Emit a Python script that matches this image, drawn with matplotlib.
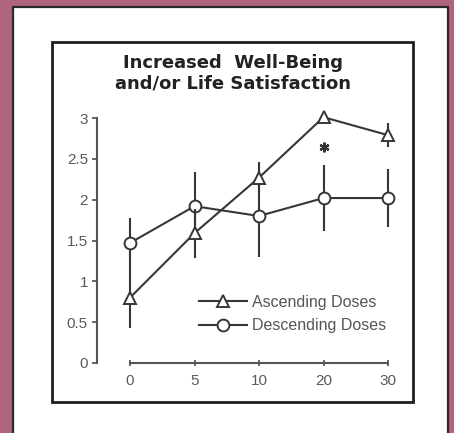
import matplotlib
matplotlib.use("Agg")
import matplotlib.pyplot as plt
from matplotlib.patches import Rectangle
from matplotlib.lines import Line2D

# ---- data ----
doses = ["0", "5", "10", "20", "30"]
asc_mean = [0.80, 1.59, 2.27, 3.01, 2.79]
asc_err = [0.37, 0.30, 0.19, 0.00, 0.15]
desc_mean = [1.47, 1.92, 1.80, 2.02, 2.02]
desc_err = [0.30, 0.42, 0.50, 0.40, 0.35]
y_ticks = [0, 0.5, 1, 1.5, 2, 2.5, 3]
y_tick_labels = ["0", "0.5", "1", "1.5", "2", "2.5", "3"]
series_labels = ["Ascending Doses", "Descending Doses"]
title_lines = ["Increased  Well-Being", "and/or Life Satisfaction"]
sig_index = 3
sig_y = 2.64

W, H = 454, 433
fig = plt.figure(figsize=(W / 100, H / 100), dpi=100)
fig.patch.set_facecolor("#b0657f")

def fx(px):
    return px / W

def fy(py):
    return 1 - py / H

# white panel
fig.patches.append(Rectangle((fx(13), fy(440)), fx(448) - fx(13), fy(7) - fy(440),
                             transform=fig.transFigure, facecolor="white",
                             edgecolor="#2a2a2a", linewidth=1.6, zorder=0))
# inner black frame
fig.patches.append(Rectangle((fx(52), fy(402)), fx(413) - fx(52), fy(42) - fy(402),
                             transform=fig.transFigure, facecolor="white",
                             edgecolor="#1e1e1e", linewidth=2.0, zorder=0.5))

tfont = dict(family="DejaVu Sans", weight="bold", size=13, color="#222222", zorder=3)
fig.text(fx(232.5), fy(63), title_lines[0], ha="center", va="center", **tfont)
fig.text(fx(232.5), fy(83), title_lines[1], ha="center", va="center", **tfont)

# axes: x=0 at px 130, x=4 at px 388 ; y=0 at px 363, y=3 at px 118
ax = fig.add_axes([fx(97), fy(363), fx(400) - fx(97), fy(110) - fy(363)])
ax.set_zorder(2)
ax.patch.set_alpha(0)
ppx = (388 - 130) / 4.0
ppy = (363 - 118) / 3.0
ax.set_xlim((97 - 130) / ppx, (400 - 130) / ppx)
ax.set_ylim(0, (363 - 110) / ppy)

x = list(range(len(doses)))
lc = "#363636"
ax.errorbar(x, desc_mean, yerr=desc_err, color=lc, lw=1.5, elinewidth=1.5,
            capsize=0, marker="o", ms=8.5, mfc="white", mec=lc, mew=1.4, zorder=3)
ax.errorbar(x, asc_mean, yerr=asc_err, color=lc, lw=1.5, elinewidth=1.5,
            capsize=0, marker="^", ms=9, mfc="white", mec=lc, mew=1.4, zorder=4)

ax.plot([x[sig_index]], [sig_y], linestyle="none", marker=(6, 2, 0), ms=7,
        mew=1.6, color="#333333", zorder=5)

for s in ["top", "right"]:
    ax.spines[s].set_visible(False)
for s in ["left", "bottom"]:
    ax.spines[s].set_color("#555555")
    ax.spines[s].set_linewidth(1.5)
ax.spines["left"].set_bounds(0, 3)
ax.spines["bottom"].set_bounds(0, 4)

ax.set_xticks(x)
ax.set_xticklabels(doses)
ax.set_yticks(y_ticks)
ax.set_yticklabels(y_tick_labels)
for lab in ax.get_xticklabels() + ax.get_yticklabels():
    lab.set_fontfamily("Liberation Sans")
    lab.set_fontsize(11)
ax.tick_params(axis="y", direction="out", length=3.5, width=1.3, pad=3,
               colors="#5a5a5a")
ax.tick_params(axis="x", direction="inout", length=4, width=1.3, pad=6,
               colors="#5a5a5a")

handles = [Line2D([], [], color=lc, lw=1.5, marker="^", ms=9, mfc="white", mec=lc, mew=1.4),
           Line2D([], [], color=lc, lw=1.5, marker="o", ms=8.5, mfc="white", mec=lc, mew=1.4)]
leg = ax.legend(handles, series_labels, loc="center left",
                bbox_to_anchor=(fx(199), fy(314)), bbox_transform=fig.transFigure,
                frameon=False, handlelength=3.0, handletextpad=0.3,
                labelspacing=0.55, borderpad=0, borderaxespad=0,
                prop=dict(family="Liberation Sans", size=11.5))
for t in leg.get_texts():
    t.set_color("#555555")

fig.savefig("out.png", dpi=100, facecolor=fig.get_facecolor())
